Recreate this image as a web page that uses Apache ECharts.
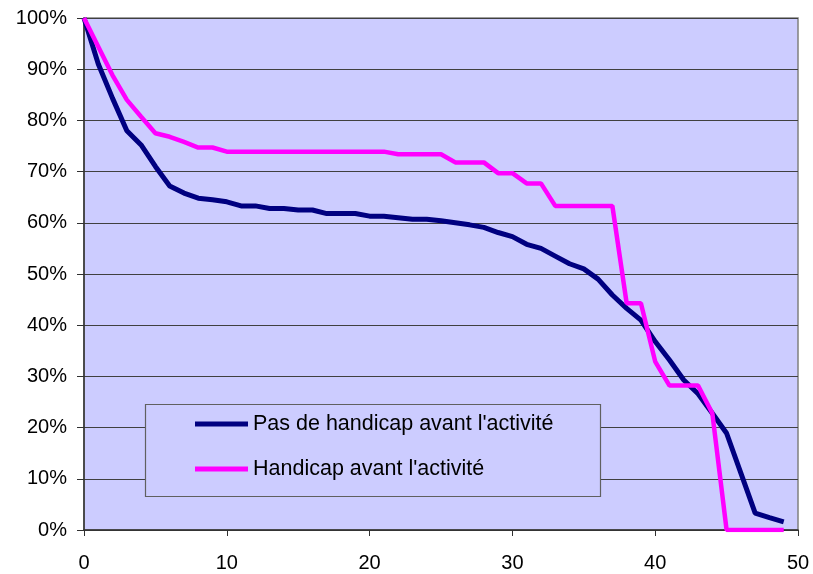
<!DOCTYPE html>
<html>
<head>
<meta charset="utf-8">
<script src="https://cdn.jsdelivr.net/npm/echarts@6/dist/echarts.min.js"></script>
<style>
html,body{margin:0;padding:0;background:#fff;}
#chart{width:813px;height:574px;}
</style>
</head>
<body>
<div id="chart"></div>
<script>
var xValues = [0,1,2,3,4,5,6,7,8,9,10,11,12,13,14,15,16,17,18,19,20,21,22,23,24,25,26,27,28,29,30,31,32,33,34,35,36,37,38,39,40,41,42,43,44,45,46,47,48,49];
var pasHandicap = [100,91,84.3,78,75.2,71,67.2,65.8,64.8,64.5,64.1,63.3,63.3,62.8,62.8,62.5,62.5,61.8,61.8,61.8,61.3,61.3,61.0,60.7,60.7,60.4,60,59.6,59.1,58.1,57.3,55.8,55,53.5,52,51,49,45.9,43.3,41,36.8,33.2,29.3,26.6,22.8,18.9,11.1,3.3,2.4,1.6];
var handicap = [100,94.4,88.8,84,80.7,77.5,76.8,75.8,74.7,74.7,73.9,73.9,73.9,73.9,73.9,73.9,73.9,73.9,73.9,73.9,73.9,73.9,73.4,73.4,73.4,73.4,71.8,71.8,71.8,69.7,69.7,67.7,67.7,63.3,63.3,63.3,63.3,63.3,44.3,44.3,32.9,28.2,28.2,28.2,22.8,0,0,0,0,0];
var seriesNames = ["Pas de handicap avant l'activité", "Handicap avant l'activité"];

function pairs(ys){ return xValues.map(function(x,i){ return [x, ys[i]]; }); }

var chart = echarts.init(document.getElementById('chart'), null, {renderer:'canvas'});
var font = 'Liberation Sans, Arial, sans-serif';
chart.setOption({
  animation:false,
  backgroundColor:'#ffffff',
  grid:{left:84, right:15, top:18, bottom:44, show:true, backgroundColor:'#CCCCFF', borderColor:'#808080', borderWidth:1.5},
  graphic:[{type:'rect', z:3, shape:{x:145.5, y:404.5, width:455, height:92}, style:{fill:'#CCCCFF', stroke:'#606060', lineWidth:1.2}}],
  legend:{
    orient:'vertical', left:195, top:412, padding:0, itemGap:21,
    itemWidth:53, itemHeight:5, icon:'rect', z:10,
    textStyle:{fontFamily:font, fontSize:21.5, color:'#000', lineHeight:24},
    data:seriesNames
  },
  xAxis:{
    type:'value', min:0, max:50, interval:10,
    axisLine:{show:true, lineStyle:{color:'#303030', width:1.5}},
    axisTick:{show:true, length:6, lineStyle:{color:'#303030'}},
    axisLabel:{fontFamily:font, fontSize:20, color:'#000', margin:23},
    splitLine:{show:false}
  },
  yAxis:{
    type:'value', min:0, max:100, interval:10,
    axisLine:{show:true, lineStyle:{color:'#303030', width:1.5}},
    axisTick:{show:true, length:7, lineStyle:{color:'#303030'}},
    axisLabel:{fontFamily:font, fontSize:20, color:'#000', margin:17, formatter:'{value}%'},
    splitLine:{show:true, lineStyle:{color:'#404040', width:1.2}}
  },
  series:[
    {name:seriesNames[0], type:'line', data:pairs(pasHandicap), symbol:'none', lineStyle:{color:'#000080', width:5}, itemStyle:{color:'#000080'}, z:5},
    {name:seriesNames[1], type:'line', data:pairs(handicap), symbol:'none', lineStyle:{color:'#FF00FF', width:4.5}, itemStyle:{color:'#FF00FF'}, z:6}
  ]
});
</script>
</body>
</html>
